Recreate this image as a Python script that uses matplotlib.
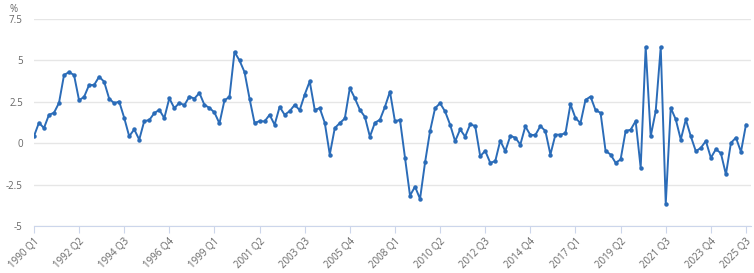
import numpy as np
import matplotlib.pyplot as plt

plt.rcParams['font.family'] = ['Open Sans', 'DejaVu Sans']

# quarterly values, 1990 Q1 .. 2025 Q3 (%)
values = [
    0.42, 1.24, 0.92, 1.72, 1.84, 2.44, 4.12, 4.30, 4.12, 2.60,
    2.80, 3.52, 3.52, 4.02, 3.72, 2.70, 2.42, 2.52, 1.54, 0.42,
    0.84, 0.22, 1.34, 1.40, 1.82, 2.02, 1.52, 2.72, 2.12, 2.44,
    2.30, 2.82, 2.70, 3.04, 2.32, 2.14, 1.86, 1.20, 2.60, 2.80,
    5.52, 5.00, 4.30, 2.70, 1.22, 1.34, 1.32, 1.72, 1.12, 2.20,
    1.72, 1.94, 2.32, 2.00, 2.94, 3.74, 2.02, 2.12, 1.24, -0.68,
    0.92, 1.22, 1.50, 3.34, 2.72, 2.02, 1.60, 0.40, 1.24, 1.42,
    2.20, 3.12, 1.32, 1.42, -0.86, -3.16, -2.62, -3.36, -1.16, 0.74,
    2.12, 2.42, 1.92, 1.12, 0.12, 0.84, 0.40, 1.14, 1.04, -0.78,
    -0.46, -1.18, -1.08, 0.16, -0.48, 0.44, 0.34, -0.08, 1.02, 0.50,
    0.50, 1.04, 0.74, -0.68, 0.52, 0.52, 0.60, 2.36, 1.52, 1.22,
    2.62, 2.82, 2.00, 1.84, -0.46, -0.68, -1.18, -0.98, 0.74, 0.82,
    1.34, -1.48, 5.82, 0.42, 1.94, 5.82, -3.66, 2.14, 1.44, 0.22,
    1.44, 0.42, -0.48, -0.28, 0.14, -0.88, -0.36, -0.60, -1.88, 0.02,
    0.34, -0.52, 1.12,
]
quarters = [f"{y} Q{q}" for y in range(1990, 2026) for q in range(1, 5)][:len(values)]
tick_idx = list(range(0, len(values), 9)) + [len(values) - 1]
y_ticks = [-5, -2.5, 0, 2.5, 5, 7.5]
y_labels = ["-5", "-2.5", "0", "2.5", "5", "7.5"]

fig = plt.figure(figsize=(7.54, 2.73), dpi=100)
ax = fig.add_axes([0.045, 0.172, 0.951, 0.758])

x = np.arange(len(values))
ax.plot(x, values, color='#2b6cb8', lw=1.4, marker='o', ms=2.2, zorder=3)

ax.set_xlim(0, len(values))
ax.set_ylim(-5, 7.5)
ax.set_yticks(y_ticks)
ax.set_yticklabels(y_labels)
ax.set_xticks(tick_idx)
ax.set_xticklabels([quarters[i] for i in tick_idx])

ax.grid(axis='y', color='#e6e6e6', lw=1)
ax.set_axisbelow(True)
for s in ['top', 'right', 'left']:
    ax.spines[s].set_visible(False)
ax.spines['bottom'].set_color('#ccd6eb')
ax.tick_params(axis='y', length=0, pad=8, labelsize=7, labelcolor='#666666')
ax.tick_params(axis='x', length=5, color='#ccd6eb', pad=2, labelsize=7,
               labelcolor='#666666')
for lbl in ax.get_xticklabels():
    lbl.set_rotation(45)
    lbl.set_ha('right')
    lbl.set_rotation_mode('anchor')

fig.text(0.012, 0.965, "%", fontsize=7, color='#666666', va='center')

fig.savefig('out.png', dpi=100)
